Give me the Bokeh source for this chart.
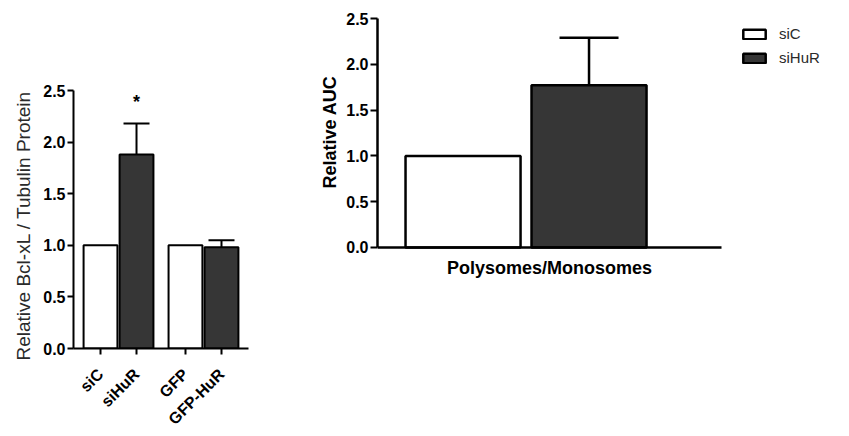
import math
from bokeh.plotting import figure
from bokeh.layouts import row
from bokeh.models import (FactorRange, Range1d, Whisker, TeeHead, ColumnDataSource,
                          FixedTicker, Legend, LegendItem, Title)
from bokeh.core.properties import value
from bokeh.embed import file_html
from bokeh.resources import INLINE

# ---------------- data ----------------
left_groups = ["knockdown", "knockdown", "overexpression", "overexpression"]
left_labels = ["siC", "siHuR", "GFP", "GFP-HuR"]
left_values = [1.0, 1.88, 1.0, 0.98]
left_errors = [0.0, 0.30, 0.0, 0.07]
left_dark = [False, True, False, True]
left_star = ["", "*", "", ""]
left_yticks = [0.0, 0.5, 1.0, 1.5, 2.0, 2.5]
left_ylabel = "Relative Bcl-xL / Tubulin Protein"

right_series = ["siC", "siHuR"]
right_values = [1.0, 1.77]
right_errors = [0.0, 0.52]
right_category = "Polysomes/Monosomes"
right_yticks = [0.0, 0.5, 1.0, 1.5, 2.0, 2.5]
right_ylabel = "Relative AUC"

FONT = "Liberation Sans"
DARK = "#363636"
H = 436
TOP, BOTTOM = 18, 88          # shared frame borders (frame spans y 18..348)

# ---------------- left chart ----------------
factors = list(zip(left_groups, left_labels))
p1 = figure(width=305, height=H, output_backend="svg", toolbar_location=None,
            x_range=FactorRange(*factors, factor_padding=0.0, group_padding=0.36,
                                range_padding=0.25, range_padding_units="absolute"),
            y_range=Range1d(0, 3.198),
            min_border_left=73, min_border_right=57, min_border_top=TOP, min_border_bottom=BOTTOM)
p1.outline_line_color = None
p1.grid.visible = False

src1 = ColumnDataSource(dict(
    x=factors, top=left_values,
    fill=[DARK if d else "white" for d in left_dark]))
p1.vbar(x="x", top="top", width=0.94, bottom=0, source=src1,
        fill_color="fill", line_color="black", line_width=2)

err_idx = [i for i, e in enumerate(left_errors) if e > 0]
src1e = ColumnDataSource(dict(
    base=[factors[i] for i in err_idx],
    lower=[left_values[i] for i in err_idx],
    upper=[left_values[i] + left_errors[i] for i in err_idx]))
p1.add_layout(Whisker(base="base", lower="lower", upper="upper", source=src1e,
                      line_color="black", line_width=2,
                      upper_head=TeeHead(size=26, line_width=2, line_color="black"),
                      lower_head=None))

star_idx = [i for i, s in enumerate(left_star) if s]
p1.text(x=[factors[i] for i in star_idx],
        y=[left_values[i] + left_errors[i] for i in star_idx],
        text=[left_star[i] for i in star_idx], y_offset=-22,
        text_font=value(FONT), text_font_size="18px", text_font_style="bold",
        text_align="center", text_baseline="middle", text_color="black")

ya = p1.yaxis[0]
ya.bounds = (0, 2.5)
ya.ticker = FixedTicker(ticks=left_yticks)
ya.major_label_overrides = {t: f"{t:.1f}" for t in left_yticks}
ya.major_label_text_font = FONT
ya.major_label_text_font_style = "bold"
ya.major_label_text_font_size = "16px"
ya.major_label_text_color = "black"
ya.major_label_standoff = 2
ya.major_tick_out = 6
ya.major_tick_in = 0
ya.minor_tick_line_color = None
ya.axis_line_width = 2
ya.major_tick_line_width = 2

p1.add_layout(Title(text=left_ylabel, align="left", offset=-12, standoff=14,
                    text_font=FONT, text_font_size="19px", text_font_style="normal",
                    text_color="#2a2a2a"), "left")

xa = p1.xaxis[0]
xa.major_label_orientation = math.pi / 4
xa.major_label_text_font = FONT
xa.major_label_text_font_style = "bold"
xa.major_label_text_font_size = "16px"
xa.major_label_text_color = "black"
xa.major_label_standoff = 17
xa.group_text_font_size = "0px"
xa.group_text_color = None
xa.separator_line_color = None
xa.major_tick_out = 6
xa.major_tick_in = 0
xa.axis_line_width = 2
xa.major_tick_line_width = 2

# ---------------- right chart ----------------
rx = list(range(len(right_series)))
x_bounds = (-0.679, 2.05)
p2 = figure(width=540, height=H, output_backend="svg", toolbar_location=None,
            x_range=Range1d(x_bounds[0], 3.004), y_range=Range1d(-1.103, 2.5),
            min_border_left=72, min_border_right=4, min_border_top=TOP, min_border_bottom=BOTTOM)
p2.outline_line_color = None
p2.grid.visible = False

renderers = []
for i, name in enumerate(right_series):
    r = p2.vbar(x=[rx[i]], top=[right_values[i]], width=0.913, bottom=0,
                fill_color=DARK if i == 1 else "white", line_color="black", line_width=2.5)
    renderers.append(r)

e_idx = [i for i, e in enumerate(right_errors) if e > 0]
src2e = ColumnDataSource(dict(
    base=[rx[i] for i in e_idx],
    lower=[right_values[i] for i in e_idx],
    upper=[right_values[i] + right_errors[i] for i in e_idx]))
p2.add_layout(Whisker(base="base", lower="lower", upper="upper", source=src2e,
                      line_color="black", line_width=2.5,
                      upper_head=TeeHead(size=59, line_width=2.5, line_color="black"),
                      lower_head=None))

ya2 = p2.yaxis[0]
ya2.bounds = (0, 2.5)
ya2.ticker = FixedTicker(ticks=right_yticks)
ya2.major_label_overrides = {t: f"{t:.1f}" for t in right_yticks}
ya2.major_label_text_font = FONT
ya2.major_label_text_font_style = "bold"
ya2.major_label_text_font_size = "16px"
ya2.major_label_text_color = "black"
ya2.major_label_standoff = 2
ya2.major_tick_out = 7
ya2.major_tick_in = 0
ya2.minor_tick_line_color = None
ya2.axis_line_width = 2.5
ya2.major_tick_line_width = 2

p2.add_layout(Title(text=right_ylabel, align="right", offset=57, standoff=8,
                    text_font=FONT, text_font_size="18px", text_font_style="bold",
                    text_color="black"), "left")

xa2 = p2.xaxis[0]
xa2.fixed_location = 0
xa2.bounds = x_bounds
xa2.ticker = FixedTicker(ticks=[])
xa2.major_label_text_font_size = "0px"
xa2.major_tick_line_color = None
xa2.minor_tick_line_color = None
xa2.axis_line_width = 2.5

p2.text(x=[sum(x_bounds) / 2], y=[0], text=[right_category], y_offset=11,
        text_font=value(FONT), text_font_size="18px", text_font_style="bold",
        text_align="center", text_baseline="top", text_color="black")

legend = Legend(items=[LegendItem(label=n, renderers=[r]) for n, r in zip(right_series, renderers)],
                location=(363, 282), padding=0, margin=0, spacing=7,
                glyph_width=28, glyph_height=12, label_standoff=11,
                label_text_font=FONT, label_text_font_size="15px", label_text_color="#2a2a2a",
                border_line_color=None, background_fill_alpha=0)
p2.add_layout(legend, "center")

layout = row(p1, p2)
open("out.html", "w").write(file_html(layout, INLINE))
